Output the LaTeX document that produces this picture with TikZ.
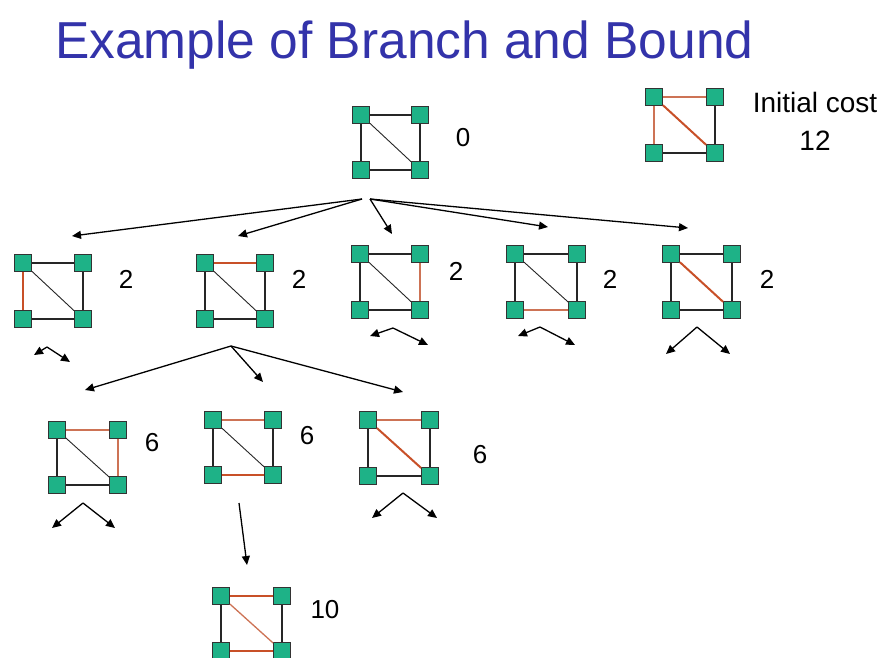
\documentclass[tikz,border=0pt]{standalone}
\usepackage{fontspec}
\setmainfont{Liberation Sans}
\usetikzlibrary{arrows.meta}
\definecolor{vgreen}{RGB}{30,178,135}
\definecolor{titleblue}{RGB}{51,51,170}
\definecolor{brthin}{RGB}{205,115,85}
\definecolor{brthick}{RGB}{200,80,40}
\newcommand\gverts[5]{%
  \node[vtx] (#1a) at (#2,#3) {};
  \node[vtx] (#1b) at (#4,#3) {};
  \node[vtx] (#1c) at (#4,#5) {};
  \node[vtx] (#1d) at (#2,#5) {};}
\newcommand\gedges[6]{%
  \draw[#2] (#1a) -- (#1b);
  \draw[#3] (#1b) -- (#1c);
  \draw[#4] (#1c) -- (#1d);
  \draw[#5] (#1d) -- (#1a);
  \draw[#6] (#1a) -- (#1c);}
\tikzset{
  vtx/.style={draw=black!80, line width=0.9pt, fill=vgreen, rectangle, minimum size=17pt, inner sep=0pt},
  ed/.style={draw=black!85, line width=1.6pt},
  dg/.style={draw=black!85, line width=0.9pt},
  bt/.style={draw=brthin, line width=1.3pt},
  bk/.style={draw=brthick, line width=2.8pt},
  bd/.style={draw=brthick, line width=2pt},
  arr/.style={-{Triangle[length=9pt,width=8pt]}, line width=1.3pt, draw=black},
  lbl/.style={font=\fontsize{26}{28}\selectfont, inner sep=0pt},
}
\begin{document}
\begin{tikzpicture}[x=1pt,y=-1pt]
\useasboundingbox[fill=white] (0,0) rectangle (881,657);
% title
\node[anchor=base west, inner sep=0pt, text=titleblue] (title) at (55,58)
  {\scalebox{0.99}[1]{\fontsize{52}{60}\selectfont Example of Branch and Bound}};
% initial cost graph
\gverts{ini}{654}{97}{715}{153}
\gedges{ini}{bt}{ed}{ed}{bt}{bd}
\node[font=\fontsize{28}{38}\selectfont, align=center, inner sep=0pt] (initxt) at (815,121) {Initial cost\\12};
% root
\gverts{r}{361}{115}{420}{170}
\gedges{r}{ed}{ed}{ed}{ed}{dg}
\node[lbl] (r0) at (463,138) {0};
% row 2
\gverts{A}{23}{263}{83}{319}
\gedges{A}{ed}{ed}{ed}{bk}{dg}
\node[lbl] (A2) at (126,279) {2};
\gverts{B}{205}{263}{265}{319}
\gedges{B}{bk}{ed}{ed}{ed}{dg}
\node[lbl] (B2) at (299,279) {2};
\gverts{C}{360}{254}{420}{310}
\gedges{C}{ed}{bt}{ed}{ed}{dg}
\node[lbl] (C2) at (456,271) {2};
\gverts{D}{515}{254}{577}{310}
\gedges{D}{ed}{ed}{bt}{ed}{dg}
\node[lbl] (D2) at (610,279) {2};
\gverts{E}{671}{254}{732}{310}
\gedges{E}{ed}{ed}{ed}{ed}{bd}
\node[lbl] (E2) at (767,279) {2};
% row 3
\gverts{F}{57}{430}{118}{485}
\gedges{F}{bt}{bt}{ed}{ed}{dg}
\node[lbl] (F6) at (152,443) {6};
\gverts{G}{213}{420}{273}{475}
\gedges{G}{bt}{ed}{bk}{ed}{dg}
\node[lbl] (G6) at (307,436) {6};
\gverts{H}{368}{420}{430}{476}
\gedges{H}{bt}{ed}{ed}{ed}{bd}
\node[lbl] (H6) at (480,455) {6};
% bottom
\gverts{I}{221}{596}{282}{651}
\gedges{I}{bk}{ed}{bk}{ed}{bt}
\node[lbl] (I10) at (325,610) {10};
% arrows from root
\coordinate (f0) at (362,199);
\coordinate (f0b) at (370,199);
\coordinate (t1) at (72,236);
\coordinate (t2) at (238,236);
\coordinate (t3) at (392,234);
\coordinate (t4) at (548,227);
\coordinate (t5) at (688,228);
\draw[arr] (f0) -- (t1);
\draw[arr] (f0) -- (t2);
\draw[arr] (f0b) -- (t3);
\draw[arr] (f0b) -- (t4);
\draw[arr] (f0b) -- (t5);
% arrows from B
\coordinate (fB) at (231,346);
\coordinate (tF) at (85,390);
\coordinate (tG) at (263,382);
\coordinate (tH) at (403,392);
\draw[arr] (fB) -- (tF);
\draw[arr] (fB) -- (tG);
\draw[arr] (fB) -- (tH);
% small branch arrows
\coordinate (pA) at (47,347); \coordinate (lA) at (34,355); \coordinate (rA) at (70,362);
\draw[arr] (pA) -- (lA); \draw[arr] (pA) -- (rA);
\coordinate (pC) at (393,328); \coordinate (lC) at (370,336); \coordinate (rC) at (428,345);
\draw[arr] (pC) -- (lC); \draw[arr] (pC) -- (rC);
\coordinate (pD) at (540,327); \coordinate (lD) at (518,336); \coordinate (rD) at (575,345);
\draw[arr] (pD) -- (lD); \draw[arr] (pD) -- (rD);
\coordinate (pE) at (697,327); \coordinate (lE) at (666,354); \coordinate (rE) at (730,354);
\draw[arr] (pE) -- (lE); \draw[arr] (pE) -- (rE);
\coordinate (pF) at (83,503); \coordinate (lF) at (52,528); \coordinate (rF) at (115,528);
\draw[arr] (pF) -- (lF); \draw[arr] (pF) -- (rF);
\coordinate (pH) at (403,493); \coordinate (lH) at (372,518); \coordinate (rH) at (437,518);
\draw[arr] (pH) -- (lH); \draw[arr] (pH) -- (rH);
% arrow from G down
\coordinate (sG) at (239,503);
\coordinate (tI) at (247,565);
\draw[arr] (sG) -- (tI);
\end{tikzpicture}
\end{document}
